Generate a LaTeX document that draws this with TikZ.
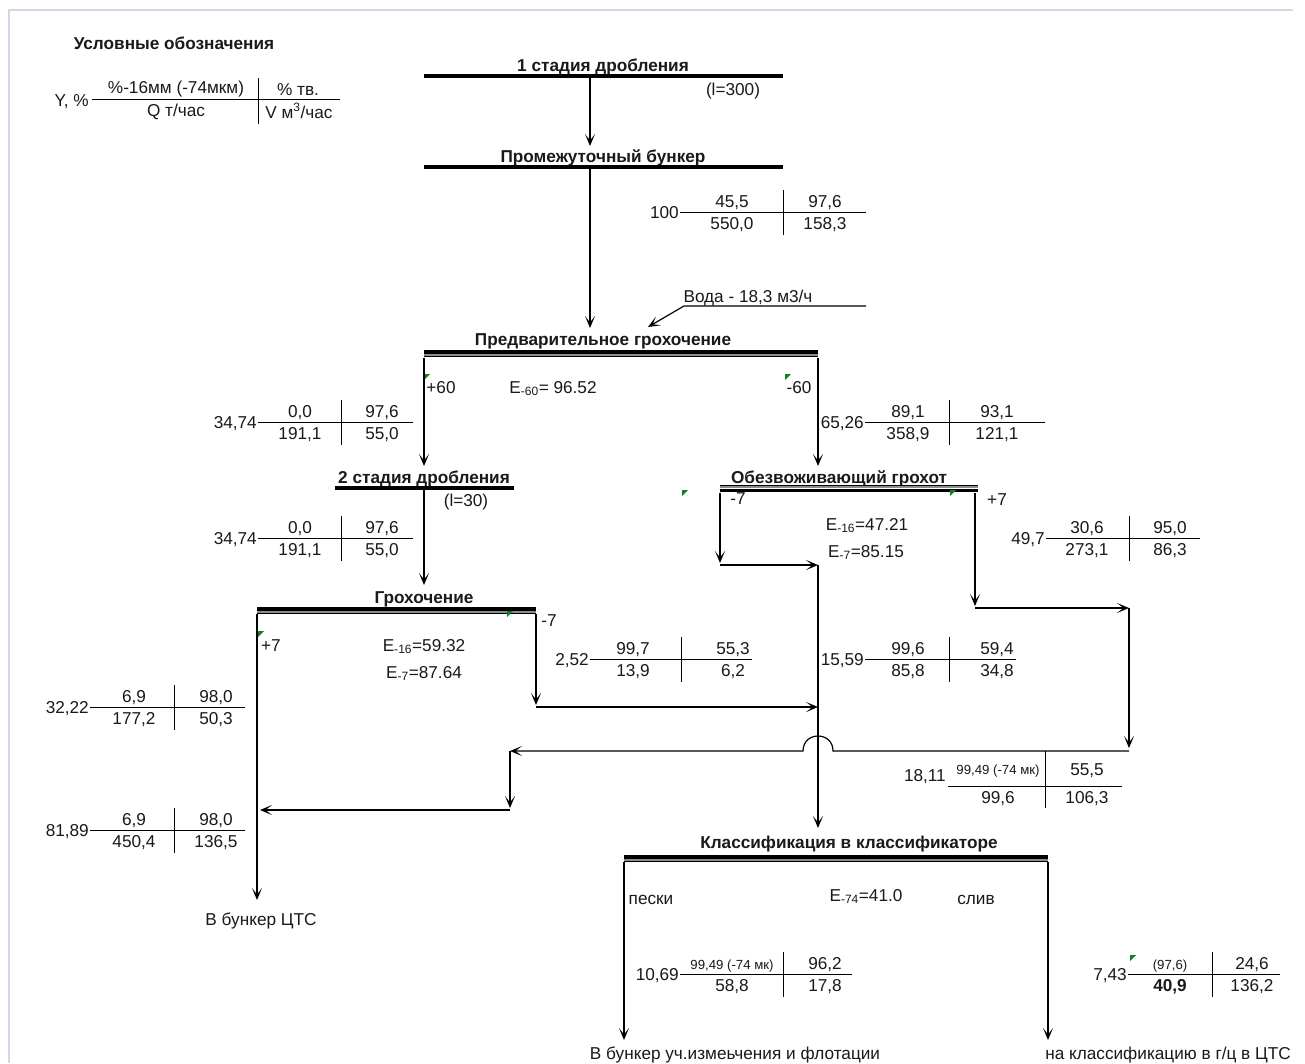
\documentclass[tikz,border=0pt]{standalone}
\usepackage{fontspec}
\setmainfont{Liberation Sans}
\usetikzlibrary{arrows.meta}
\definecolor{framecol}{RGB}{208,216,230}
\definecolor{markgreen}{RGB}{20,130,20}
\definecolor{ink}{RGB}{25,25,30}
\newcommand\smf{\fontsize{13.2}{15}\selectfont}
\newcommand\dbar[3]{%
  \draw[line width=3.5pt] (#1,#3+1.75) -- (#2,#3+1.75);
  \draw[line width=2pt,black!45] (#1,#3+5) -- (#2,#3+5);
  \draw[line width=1pt] (#1,#3+6.8) -- (#2,#3+6.8);}
\newcommand\rbar[3]{%
  \draw[line width=1pt] (#1,#3+0.5) -- (#2,#3+0.5);
  \draw[line width=2pt,black!45] (#1,#3+2.3) -- (#2,#3+2.3);
  \draw[line width=3.5pt] (#1,#3+5.3) -- (#2,#3+5.3);}
\newcommand\gmark[2]{\fill[markgreen] (#1,#2) -- ++(6,0) -- ++(-6,6) -- cycle;}
\def\dtab#1(#2,#3,#4,#5,#6,#7)#8#9{%
  \draw[tline] (#2,#5) -- (#4,#5);
  \draw[tline] (#3,#5-22) -- (#3,#5+23);
  \node[txt,anchor=east] (#1-y) at (#2-1,#5) {#8};
  \def\tn{#1}\def\tlc{#6}\def\trc{#7}\def\tly{#5}%
  \dtabvals#9\relax}
\def\dtabvals#1|#2|#3|#4\relax{%
  \node[txt] (\tn-tl) at (\tlc,\tly-11) {#1};
  \node[txt] (\tn-bl) at (\tlc,\tly+11) {#2};
  \node[txt] (\tn-tr) at (\trc,\tly-11) {#3};
  \node[txt] (\tn-br) at (\trc,\tly+11) {#4};}
\begin{document}
\begin{tikzpicture}[x=1pt,y=-1pt,
  txt/.style={font=\fontsize{17.2}{19}\selectfont, inner sep=0pt, text=ink, text height=12.3pt, text depth=0pt},
  ttl/.style={txt, font=\fontsize{17.2}{19}\selectfont\bfseries},
  flow/.style={line width=1.2pt, -{Stealth[length=12pt,width=10pt,inset=6.5pt]}},
  wire/.style={line width=1.2pt},
  tline/.style={line width=1pt},
  bar/.style={line width=4pt}]
\useasboundingbox (0,0) rectangle (1305,1063);
\fill[white] (0,0) rectangle (1305,1063);
\draw[framecol, line width=1.2pt] (9,1063) -- (9,10) -- (1293,10);

% legend
\node[ttl] (legT) at (174,43) {Условные обозначения};
\node[txt,anchor=east] (legY) at (89,100) {Y, \%};
\draw[tline] (92,99) -- (340,99);
\draw[tline] (258,78) -- (258,124);
\node[txt] (leg1) at (176,87) {\%-16мм (-74мкм)};
\node[txt] (leg2) at (298,89) {\% тв.};
\node[txt] (leg3) at (176,110) {Q т/час};
\node[txt] (leg4) at (299,112) {V м\textsuperscript{3}/час};

% 1 stage crushing
\node[ttl] (st1) at (603,65) {1 стадия дробления};
\draw[bar] (424,76) -- (783,76);
\node[txt] (st1l) at (733,89) {(l=300)};
\coordinate (st1o) at (590,78);
\node[ttl] (bunk) at (603,156) {Промежуточный бункер};
\draw[bar] (424,167) -- (783,167);
\coordinate (bunki) at (590,146);
\coordinate (bunko) at (590,169);
\draw[flow] (st1o) -- (bunki);
\dtab{t0}(680,783,866,212,732,825){100}{45,5|550,0|97,6|158,3}

% water
\node[txt] (water) at (748,296) {Вода - 18,3 м3/ч};
\coordinate (wa) at (866,306);
\coordinate (wb) at (684,306);
\coordinate (wc) at (648,327);
\draw[flow] (wa) -- (wb) -- (wc);

% preliminary screening
\node[ttl] (pre) at (603,339) {Предварительное грохочение};
\dbar{424}{818}{350}
\coordinate (prei) at (590,328);
\draw[flow] (bunko) -- (prei);
\coordinate (preL) at (424,358);
\coordinate (preR) at (818,358);
\gmark{424}{374}
\node[txt] (p60) at (441,387) {+60};
\node[txt] (e60) at (553,387) {E\textsubscript{-60}= 96.52};
\gmark{785}{374}
\node[txt] (m60) at (799,387) {-60};
\dtab{t1}(258,341,413,422,300,382){34,74}{0,0|191,1|97,6|55,0}
\dtab{t2}(865,949,1045,422,908,997){65,26}{89,1|358,9|93,1|121,1}

% 2 stage crushing
\node[ttl] (st2) at (424,477) {2 стадия дробления};
\draw[bar] (335,488) -- (514,488);
\node[txt] (st2l) at (466,500) {(l=30)};
\coordinate (st2i) at (424,466);
\coordinate (st2o) at (424,490);
\draw[flow] (preL) -- (st2i);
\dtab{t3}(258,341,413,538,300,382){34,74}{0,0|191,1|97,6|55,0}

% dewatering screen
\node[ttl] (dew) at (839,477) {Обезвоживающий грохот};
\rbar{720}{978}{485}
\coordinate (dewi) at (818,466);
\draw[flow] (preR) -- (dewi);
\gmark{682}{490}
\gmark{950}{490}
\node[txt] (dm7) at (738,498) {-7};
\node[txt] (dp7) at (997,499) {+7};
\node[txt] (e16a) at (867,524) {E\textsubscript{-16}=47.21};
\node[txt] (e7a) at (866,551) {E\textsubscript{-7}=85.15};
\dtab{t4}(1046,1129,1200,538,1087,1170){49,7}{30,6|273,1|95,0|86,3}
\coordinate (dewL) at (720,493);
\coordinate (dewLa) at (720,563);
\coordinate (dewLb) at (720,565);
\coordinate (j1) at (818,565);
\draw[flow] (dewL) -- (dewLa);
\draw[flow] (dewLb) -- (j1);
\coordinate (dewR) at (975,493);
\coordinate (dewRa) at (975,606);
\coordinate (dewRb) at (975,608);
\coordinate (k1) at (1129,608);
\coordinate (k2) at (1129,748);
\coordinate (k3) at (1129,751);
\draw[flow] (dewR) -- (dewRa);
\draw[flow] (dewRb) -- (k1);
\draw[flow] (k1) -- (k2);

% screening
\node[ttl] (scr) at (424,597) {Грохочение};
\dbar{257}{536}{607}
\coordinate (scri) at (424,585);
\draw[flow] (st2o) -- (scri);
\gmark{507}{611}
\gmark{258}{631}
\node[txt] (sm7) at (549,620) {-7};
\node[txt] (sp7) at (271,645) {+7};
\node[txt] (e16b) at (424,645) {E\textsubscript{-16}=59.32};
\node[txt] (e7b) at (424,672) {E\textsubscript{-7}=87.64};
\coordinate (scrR) at (536,614);
\coordinate (scrRa) at (536,705);
\coordinate (scrRb) at (536,707);
\coordinate (j2) at (818,707);
\draw[flow] (scrR) -- (scrRa);
\draw[flow] (scrRb) -- (j2);
\coordinate (scrL) at (257,614);
\node[txt] (cts) at (261,919) {В бункер ЦТС};
\coordinate (ctsi) at (257,900);
\draw[flow] (scrL) -- (ctsi);
\dtab{t5}(590,681,752,659,633,733){2,52}{99,7|13,9|55,3|6,2}
\dtab{t6}(865,949,1016,659,908,997){15,59}{99,6|85,8|59,4|34,8}
\dtab{t7}(90,174,245,707,134,216){32,22}{6,9|177,2|98,0|50,3}
\dtab{t8}(90,174,245,830,134,216){81,89}{6,9|450,4|98,0|136,5}

% return line with jump
\coordinate (r1) at (510,751);
\coordinate (r2) at (510,808);
\coordinate (r3) at (510,810);
\coordinate (r4) at (260,810);
\coordinate (ja) at (833,751);
\coordinate (jb) at (803,751);
\draw[flow] (k3) -- (ja) .. controls (833,731) and (803,731) .. (jb) -- (r1);
\draw[flow] (r1) -- (r2);
\draw[flow] (r3) -- (r4);

% 18,11 table
\draw[tline] (948,786) -- (1122,786);
\draw[tline] (1045,751) -- (1045,808);
\node[txt,anchor=east] (t9-y) at (946,775) {18,11};
\node[txt] (t9-tl) at (998,768) {\smf 99,49 (-74 мк)};
\node[txt] (t9-bl) at (998,797) {99,6};
\node[txt] (t9-tr) at (1087,769) {55,5};
\node[txt] (t9-br) at (1087,797) {106,3};

% classifier
\node[ttl] (cls) at (849,842) {Классификация в классификаторе};
\dbar{624}{1048}{855}
\coordinate (clsi) at (818,828);
\draw[flow] (j1) -- (clsi);
\node[txt] (sand) at (651,898) {пески};
\node[txt] (e74) at (866,895) {E\textsubscript{-74}=41.0};
\node[txt] (over) at (976,898) {слив};
\coordinate (clsL) at (624,862);
\coordinate (clsR) at (1048,862);
\coordinate (outL) at (624,1040);
\coordinate (outR) at (1048,1040);
\draw[flow] (clsL) -- (outL);
\draw[flow] (clsR) -- (outR);
\node[txt] (outLt) at (735,1053) {В бункер уч.измеьчения и флотации};
\node[txt] (outRt) at (1168,1053) {на классификацию в г/ц в ЦТС};
\dtab{t10}(680,783,852,974,732,825){10,69}{{\smf 99,49 (-74 мк)}|58,8|96,2|17,8}
\gmark{1130}{955}
\dtab{t11}(1128,1212,1280,974,1170,1252){7,43}{{\smf (97,6)}|\textbf{40,9}|24,6|136,2}
\end{tikzpicture}
\end{document}
